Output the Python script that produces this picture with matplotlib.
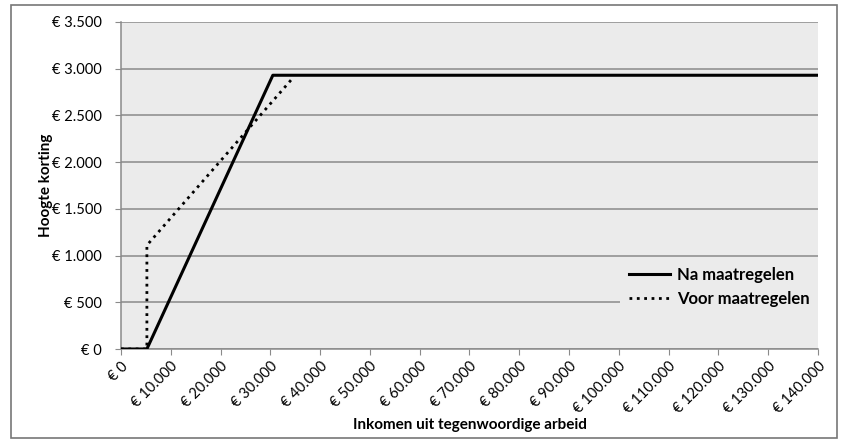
import matplotlib
matplotlib.use('Agg')
import matplotlib.pyplot as plt
from matplotlib.patches import Rectangle
from matplotlib.ticker import FuncFormatter, MultipleLocator

plt.rcParams['font.family'] = ['Lato', 'DejaVu Sans']

# data
inkomen_na = [0, 5200, 30500, 140000]
korting_na = [0, 0, 2930, 2930]
inkomen_voor = [0, 5200, 5200, 34500]
korting_voor = [0, 0, 1110, 2900]

def euro(v, pos):
    return '€ ' + f'{int(v):,}'.replace(',', '.')

fig = plt.figure(figsize=(8.45, 4.4), dpi=100)
fig.patches.append(Rectangle((11/845, 2/440), 826/845, 433/440, transform=fig.transFigure,
                             fill=False, edgecolor='#777777', lw=1.2))
ax = fig.add_axes([121/845, 1 - 349/440, 697/845, 327/440])
ax.set_facecolor('#ebebeb')

ax.plot(inkomen_voor, korting_voor, color='black', lw=2, ls=':', label='Voor maatregelen', zorder=3)
ax.plot(inkomen_na, korting_na, color='black', lw=2.2, label='Na maatregelen', zorder=4)

ax.set_xlim(0, 140000)
ax.set_ylim(0, 3500)
ax.xaxis.set_major_locator(MultipleLocator(10000))
ax.yaxis.set_major_locator(MultipleLocator(500))
ax.xaxis.set_major_formatter(FuncFormatter(euro))
ax.yaxis.set_major_formatter(FuncFormatter(euro))
ax.grid(axis='y', color='#8a8a8a', lw=1.1)
ax.set_axisbelow(True)
for s in ['top', 'right']:
    ax.spines[s].set_visible(False)
for s in ['left', 'bottom']:
    ax.spines[s].set_color('#8a8a8a')
    ax.spines[s].set_linewidth(1.1)
ax.tick_params(axis='both', colors='#8a8a8a', labelcolor='black', labelsize=10.5, length=4)
ax.tick_params(axis='y', pad=10)
plt.setp(ax.get_xticklabels(), rotation=45, ha='right', rotation_mode='anchor')

ax.set_xlabel('Inkomen uit tegenwoordige arbeid', fontsize=11, fontweight='bold', labelpad=1)
ax.set_ylabel('Hoogte korting', fontsize=11, fontweight='bold', labelpad=-1)

handles, labels = ax.get_legend_handles_labels()
leg = ax.legend(handles[::-1], labels[::-1], loc='center right', bbox_to_anchor=(1.0, 0.19),
                borderaxespad=0, borderpad=0.5,
                frameon=True, facecolor='#ebebeb', edgecolor='none', framealpha=1,
                handlelength=2.5, handletextpad=0.4, labelspacing=0.45,
                prop={'weight': 'bold', 'size': 12})

fig.savefig('out.png', dpi=100)
